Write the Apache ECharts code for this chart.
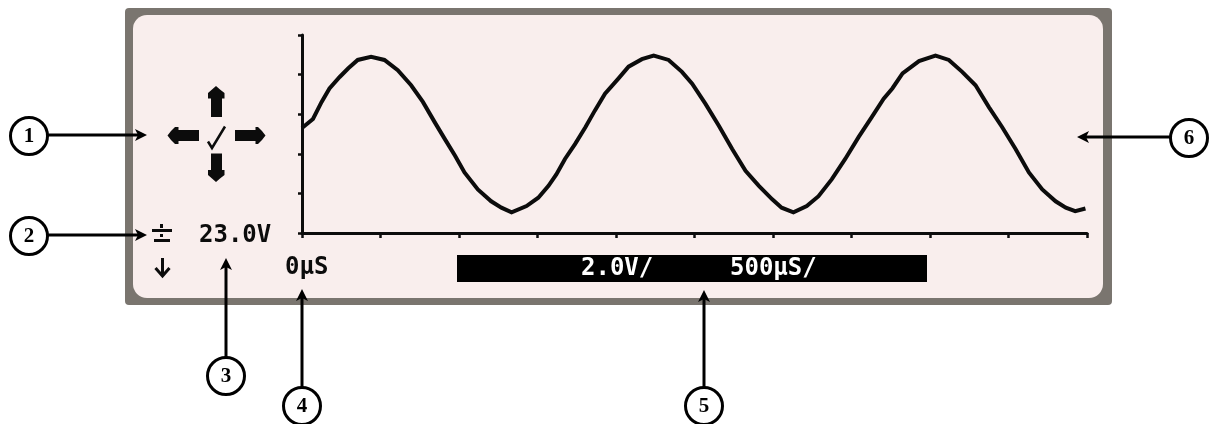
<!DOCTYPE html>
<html><head><meta charset="utf-8">
<script src="https://cdn.jsdelivr.net/npm/echarts@6/dist/echarts.min.js"></script>
<style>html,body{margin:0;padding:0;background:#fff}#c{width:1209px;height:424px}</style>
</head><body><div id="c"></div>
<script>
const timeDiv = [0, 0.14, 0.25, 0.35, 0.48, 0.59, 0.71, 0.88, 1.05, 1.22, 1.39, 1.54, 1.69, 1.82, 1.95,
  2.07, 2.24, 2.41, 2.54, 2.67, 2.86, 3.01, 3.14, 3.24, 3.35, 3.48, 3.61, 3.73, 3.86,
  4.03, 4.16, 4.33, 4.48, 4.67, 4.84, 4.97, 5.14, 5.31, 5.48, 5.65, 5.82, 5.99,
  6.11, 6.26, 6.43, 6.58, 6.75, 6.92, 7.09, 7.26, 7.41, 7.52, 7.65, 7.86,
  8.07, 8.24, 8.41, 8.58, 8.75, 8.92, 9.09, 9.26, 9.43, 9.60, 9.73, 9.85, 9.98];
const voltDiv = [2.65, 2.88, 3.31, 3.65, 3.94, 4.16, 4.37, 4.45, 4.37, 4.11, 3.73, 3.31, 2.80, 2.37, 1.95,
  1.53, 1.10, 0.80, 0.64, 0.52, 0.68, 0.89, 1.19, 1.48, 1.87, 2.25, 2.67, 3.09, 3.52,
  3.90, 4.20, 4.39, 4.48, 4.37, 4.07, 3.77, 3.26, 2.71, 2.12, 1.57, 1.19, 0.85,
  0.64, 0.52, 0.68, 0.93, 1.36, 1.87, 2.42, 2.93, 3.39, 3.65, 4.03, 4.34,
  4.48, 4.37, 4.07, 3.73, 3.18, 2.67, 2.12, 1.53, 1.10, 0.80, 0.64, 0.55, 0.62];
const xDivisions = 10;
const yDivisions = 5;
const yTickValues = [0, 1, 2, 3, 4, 5];
const levelLabel = '23.0V';
const offsetLabel = '0µS';
const scaleLabels = ['2.0V/', '500µS/'];
const calloutNumbers = ['1', '2', '3', '4', '5', '6'];

const chart = echarts.init(document.getElementById('c'), null, {renderer: 'canvas'});
const data = timeDiv.map((t, i) => [t, voltDiv[i]]);

const INK = '#0c0c0c';
const lcdFont = 'bold 24px "DejaVu Sans Mono"';
const numFont = 'bold 21px "Liberation Serif"';

function txt(text, x, y, fill, font, align, z) {
  return {type: 'text', z: z == null ? 20 : z, x: x, y: y,
    style: {text: text, fill: fill, font: font, align: align || 'left', textAlign: align || 'left',
            verticalAlign: 'middle', textVerticalAlign: 'middle'}};
}
function rect(x, y, w, h, fill, r, z) {
  return {type: 'rect', z: z == null ? 20 : z, shape: {x: x, y: y, width: w, height: h, r: r || 0}, style: {fill: fill}};
}
function poly(points) {
  return {type: 'polygon', z: 20, shape: {points: points}, style: {fill: INK}};
}
function pline(points, w) {
  return {type: 'polyline', z: 20, shape: {points: points}, style: {stroke: INK, lineWidth: w, fill: null}};
}
// callout: circle with number + arrow from circle to tip
function callout(label, cx, cy, x1, y1, x2, y2) {
  const els = [];
  const dx = x2 - x1, dy = y2 - y1, L = Math.hypot(dx, dy), ux = dx / L, uy = dy / L;
  const hl = 12, hw = 6;
  const bx = x2 - ux * hl, by = y2 - uy * hl;
  const nx = bx + ux * 3, ny = by + uy * 3;
  els.push({type: 'line', z: 29, shape: {x1: x1, y1: y1, x2: nx, y2: ny}, style: {stroke: '#000', lineWidth: 3}});
  els.push({type: 'polygon', z: 31, shape: {points: [[x2, y2], [bx - uy * hw, by + ux * hw], [nx, ny], [bx + uy * hw, by - ux * hw]]},
    style: {fill: '#000'}});
  els.push({type: 'circle', z: 32, shape: {cx: cx, cy: cy, r: 18.5}, style: {fill: '#fff', stroke: '#000', lineWidth: 3}});
  els.push(txt(label, cx, cy + 1, '#000', numFont, 'center', 40));
  return els;
}

const graphics = [
  rect(125, 8, 987, 297, '#7a756f', 4, -10),
  rect(133, 15, 970, 283, '#f9eeed', 14, -9),
  // cursor cross icon
  poly([[216, 86], [220, 89.5], [224.5, 93], [224.5, 98.5], [222, 98.5], [222, 117], [211, 117], [211, 98.5], [208, 98.5], [208, 93], [212, 89.5]]),
  poly([[211, 153.5], [222, 153.5], [222, 170], [224.5, 170], [224.5, 175], [220, 178.5], [216, 182], [212, 178.5], [208, 175], [208, 170], [211, 170]]),
  poly([[167.5, 135.5], [171, 131], [175, 127], [178.5, 127], [178.5, 130], [199, 130], [199, 141], [178.5, 141], [178.5, 144], [175, 144], [171, 140]]),
  poly([[265.5, 135.5], [262, 131], [258, 127], [255.5, 127], [255.5, 130], [235, 130], [235, 141], [255.5, 141], [255.5, 144], [258, 144], [262, 140]]),
  pline([[208, 141.5], [212, 148], [225, 126.5]], 2.5),
  // trigger / ground symbol
  rect(160, 224, 3, 4, INK),
  rect(152, 229, 20, 3, INK),
  rect(160, 234, 3, 3, INK),
  rect(154, 239, 16, 3, INK),
  // down arrow
  pline([[162.5, 258], [162.5, 275]], 3),
  pline([[155.5, 268], [162.5, 276], [169.5, 268]], 3),
  // screen texts
  txt(levelLabel, 199, 236, INK, lcdFont),
  txt(offsetLabel, 285, 268, INK, lcdFont),
  rect(457, 255, 470, 27, '#000'),
  txt(scaleLabels[0], 581, 269, '#fff', lcdFont),
  txt(scaleLabels[1], 730, 269, '#fff', lcdFont)
].concat(
  callout(calloutNumbers[0], 29, 136, 48, 135, 147, 135),
  callout(calloutNumbers[1], 29, 236, 48, 235, 147, 235),
  callout(calloutNumbers[2], 226, 376, 226, 357, 226, 258),
  callout(calloutNumbers[3], 302, 406, 302, 387, 302, 289),
  callout(calloutNumbers[4], 704, 406, 704, 387, 704, 290),
  callout(calloutNumbers[5], 1189, 138, 1170, 137, 1077, 137)
);

const option = {
  backgroundColor: '#ffffff',
  animation: false,
  grid: {left: 302, right: 122, top: 35, bottom: 191, containLabel: false},
  xAxis: {
    type: 'value', min: 0, max: xDivisions, interval: 1,
    axisLine: {show: true, onZero: false, lineStyle: {color: INK, width: 3}},
    axisTick: {show: true, inside: false, length: 5, lineStyle: {color: INK, width: 2.5}},
    axisLabel: {show: false}, splitLine: {show: false}
  },
  yAxis: {
    type: 'value', min: 0, max: yDivisions, interval: 1,
    axisLine: {show: true, onZero: false, lineStyle: {color: INK, width: 3}},
    axisTick: {show: true, inside: false, length: 4, customValues: yTickValues, lineStyle: {color: INK, width: 2.5}},
    axisLabel: {show: false}, splitLine: {show: false}
  },
  series: [{
    type: 'line', data: data, showSymbol: false, symbol: 'none', smooth: false,
    lineStyle: {color: INK, width: 4, join: 'miter'}, z: 5
  }],
  graphic: {elements: graphics}
};
chart.setOption(option);
</script>
</body></html>
